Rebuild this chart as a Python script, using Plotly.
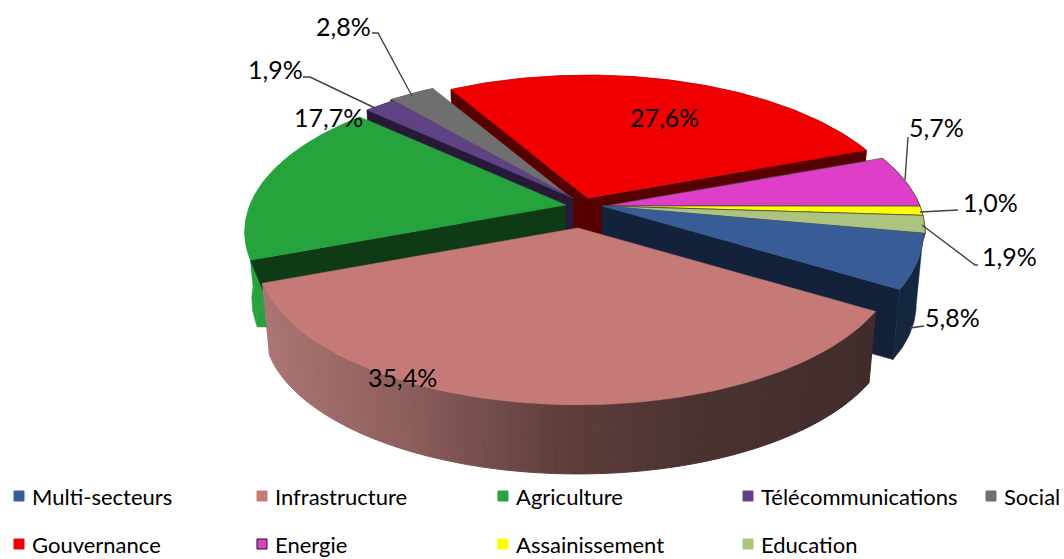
import math
import plotly.graph_objects as go

categories = ["Multi-secteurs", "Infrastructure", "Agriculture", "Télécommunications", "Social",
              "Gouvernance", "Energie", "Assainissement", "Education"]
values = [5.8, 35.4, 17.7, 1.9, 2.8, 27.6, 5.7, 1.0, 1.9]
top_colors = ["#385D96", "#C57A78", "#27A33D", "#5E4283", "#6F6F6F", "#F00000", "#DF3EC8", "#FFFF00", "#ADC380"]
wall_colors = ["#14213A", "#3F2A2A", "#0E3A16", "#261A38", "#333333", "#560000", "#5A1A50", "#66660A", "#4A5436"]
rim_colors = ["#15263F", None, "#27A33D", "#261A38", "#444444", "#560000", "#5A1A50", "#66660A", "#4A5436"]

# ---- styling / layout constants (pixel space of the page) ----
W, H = 1064, 559
FONT = "Lato"
RX, RY, PERSP, BOTTOM_SCALE = 316, 145, 0.18, 0.978
depth = [72, 73, 68, 72, 72, 72, 25, 25, 25]
wall_inset = [0, 0, 20, 0, 0, 0, 0, 0, 0]
START_ANGLE = 100.5
apex = [(602, 206), (578, 228), (566, 205), (573, 198), (570, 197), (588, 198), (604, 206), (604, 206), (604, 206)]
paint_order = [5, 4, 3, 6, 7, 8, 2, 0, 1]
label_pos = [(952, 317), (402, 377), (328, 117), (275, 69), (343, 26), (664, 117), (936, 127), (990, 202), (1009, 256)]
leaders = [[(924, 326), (910, 328)], None, None, [(303, 77), (310, 77), (375, 108)],
           [(372, 33), (378, 33), (412, 96)], None, [(908, 137), (905, 180)],
           [(958, 210), (920, 212)], [(978, 265), (975, 265), (922, 225)]]
legend_x = [19, 262, 503, 748, 991, 19, 262, 503, 748]
legend_y = [496, 496, 496, 496, 496, 544, 544, 544, 544]
infra_stops = [(262, (171, 118, 116)), (400, (143, 95, 93)), (560, (94, 62, 60)), (700, (74, 50, 49)), (880, (64, 43, 43))]


def project(a, theta_deg, d=0, bottom=False):
    t = math.radians(theta_deg)
    u, v = math.sin(t), math.cos(t)
    s = 1 / (1 + PERSP * v)
    x, y = RX * u * s, RY * v * s
    if bottom:
        return a[0] + x * BOTTOM_SCALE, a[1] - y * BOTTOM_SCALE + d
    return a[0] + x, a[1] - y


def arc(a, t0, t1, d=0, bottom=False):
    n = max(2, int(abs(t1 - t0)) + 2)
    return [project(a, t0 + (t1 - t0) * i / (n - 1), d, bottom) for i in range(n)]


def lerp_color(x):
    if x <= infra_stops[0][0]:
        c = infra_stops[0][1]
    elif x >= infra_stops[-1][0]:
        c = infra_stops[-1][1]
    else:
        for (x0, c0), (x1, c1) in zip(infra_stops, infra_stops[1:]):
            if x0 <= x <= x1:
                f = (x - x0) / (x1 - x0)
                c = tuple(c0[i] + (c1[i] - c0[i]) * f for i in range(3))
                break
    return "rgb(%d,%d,%d)" % tuple(round(k) for k in c)


fig = go.Figure()


def poly(points, fill, line_color=None, line_width=0, name=None):
    xs = [p[0] for p in points] + [points[0][0]]
    ys = [p[1] for p in points] + [points[0][1]]
    fig.add_trace(go.Scatter(
        x=xs, y=ys, mode="lines", fill="toself", fillcolor=fill,
        line=dict(color=line_color or fill, width=line_width), hoverinfo="skip",
        showlegend=False, name=name))


# slice boundaries, clockwise from the start angle
total = sum(values)
bounds = []
ang = START_ANGLE
for v in values:
    bounds.append((ang, ang + v / total * 360))
    ang += v / total * 360

for i in paint_order:
    a = apex[i]
    d = depth[i]
    t0, t1 = bounds[i]
    wall, col = wall_colors[i], top_colors[i]
    # outer rim
    if rim_colors[i] is None:
        steps = int(t1 - t0)
        for k in range(steps):
            s0 = t0 + (t1 - t0) * k / steps
            s1 = t0 + (t1 - t0) * (k + 1) / steps
            pts = arc(a, s0, s1) + arc(a, s1, s0, d, True)
            mx = sum(p[0] for p in pts) / len(pts)
            poly(pts, lerp_color(mx), line_width=1)
    else:
        poly(arc(a, t0, t1) + arc(a, t1, t0, d, True), rim_colors[i], line_width=0.5)
    # radial walls: only the ones facing the viewer
    bottom_a = (a[0], a[1] + d)
    for t, normal in ((t0, t0 - 90), (t1, t1 + 90)):
        if math.cos(math.radians(normal)) < 0:
            corner = project(a, t, d, True)
            if wall_inset[i]:
                # the rim colour wraps round the corner of the wall
                inner = (corner[0] + wall_inset[i], corner[1])
                poly([project(a, t), corner, inner], rim_colors[i], line_width=0.5)
                corner = inner
            poly([a, project(a, t), corner, bottom_a], wall, line_width=0.5)
    # top face
    outlined = i in (6, 7, 8)
    poly([a] + arc(a, t0, t1), col, line_color="#444444" if outlined else col, line_width=0.7 if outlined else 0.5,
         name=categories[i])

# leader lines
for seg in leaders:
    if seg:
        fig.add_trace(go.Scatter(x=[p[0] for p in seg], y=[p[1] for p in seg], mode="lines",
                                 line=dict(color="#404040", width=1.4), hoverinfo="skip", showlegend=False))

# legend swatches
for i, c in enumerate(categories):
    fig.add_trace(go.Scatter(
        x=[legend_x[i]], y=[legend_y[i]], mode="markers", hoverinfo="skip", showlegend=False,
        marker=dict(symbol="square", size=10, color=top_colors[i],
                    line=dict(color="#111111" if c == "Energie" else top_colors[i], width=1))))
    fig.add_annotation(x=legend_x[i] + 11, y=legend_y[i], text=c, showarrow=False, xanchor="left", yanchor="middle",
                       font=dict(family=FONT, size=22, color="#000000"))

# data labels
for i, v in enumerate(values):
    fig.add_annotation(x=label_pos[i][0], y=label_pos[i][1], text=f"{v:.1f}".replace(".", ",") + "%",
                       showarrow=False, xanchor="center", yanchor="middle",
                       font=dict(family=FONT, size=25, color="#000000"))

fig.update_layout(
    width=W, height=H, margin=dict(l=0, r=0, t=0, b=0), showlegend=False,
    paper_bgcolor="white", plot_bgcolor="white",
    xaxis=dict(range=[0, W], visible=False, fixedrange=True),
    yaxis=dict(range=[H, 0], visible=False, fixedrange=True),
)
fig.write_html("out.html", config={"displayModeBar": False},
               post_script="document.body.style.margin='0';document.documentElement.style.overflow='hidden';")
